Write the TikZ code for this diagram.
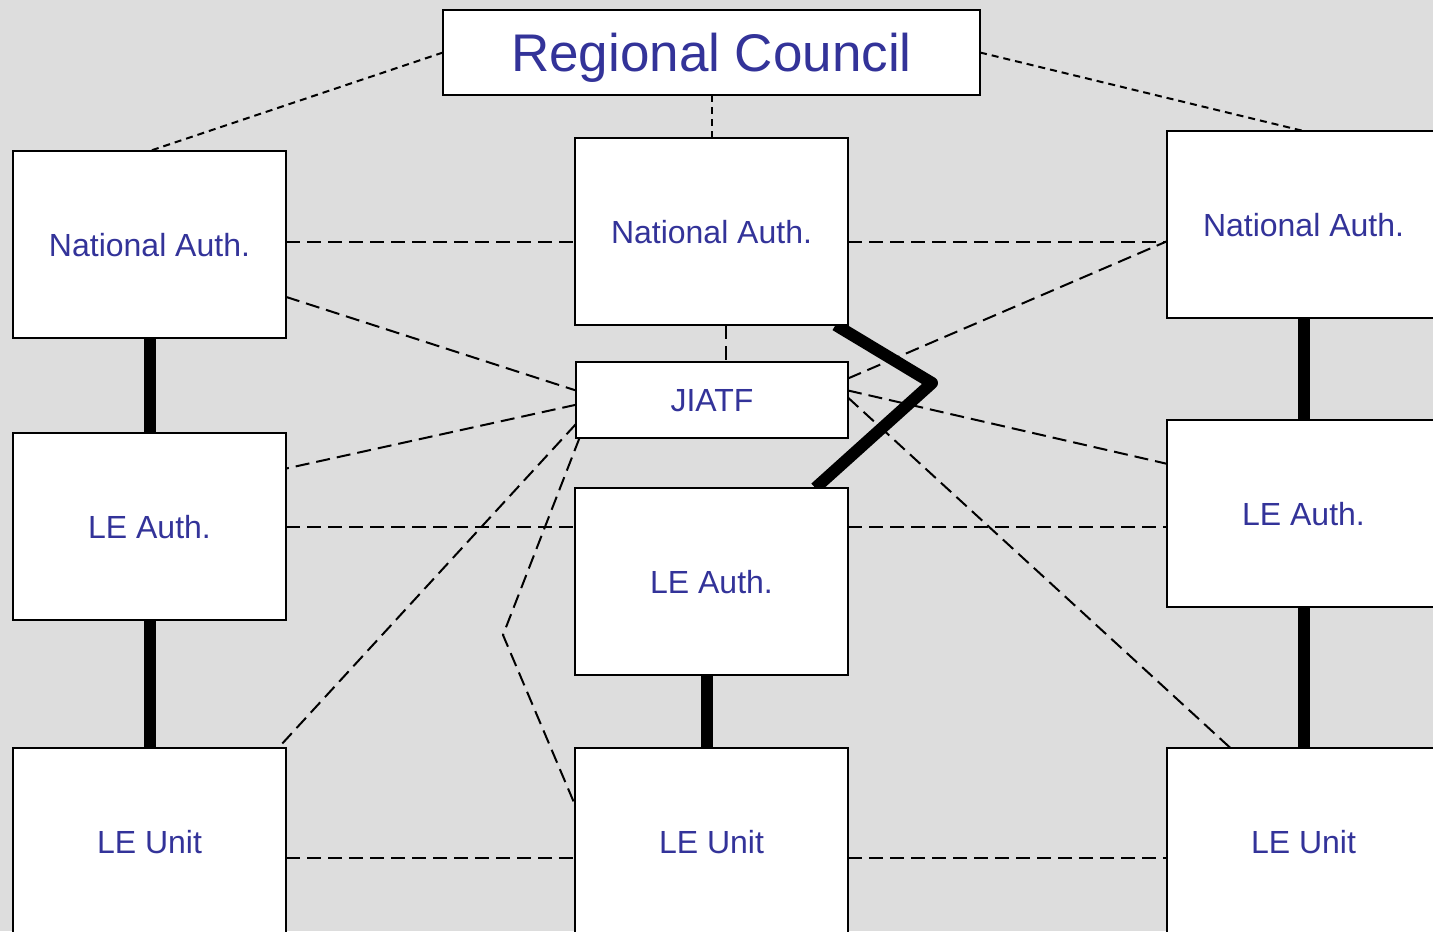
\documentclass[tikz,border=0pt]{standalone}
\usepackage{fontspec}
\setmainfont{Liberation Sans}
\definecolor{bgray}{HTML}{DDDDDD}
\definecolor{txtblue}{HTML}{333399}
\pgfdeclarelayer{background}
\pgfsetlayers{background,main}
\tikzset{
  unit/.style={draw, line width=1pt, fill=white, text=txtblue, outer sep=0pt,
    minimum width=136.5pt, minimum height=93.5pt, inner sep=0pt, text depth=0pt,
    font=\fontsize{16}{18}\selectfont},
  link/.style={dash pattern=on 7pt off 3.5pt, line width=1pt},
  toplink/.style={dash pattern=on 3.5pt off 2.5pt, line width=1pt},
  chain/.style={line width=6pt, line join=round}
}
\begin{document}
\begin{tikzpicture}[x=0.5pt,y=-0.5pt]
\useasboundingbox (0,0) rectangle (1433,931);
\clip (0,0) rectangle (1433,931);

% boxes
\node[unit, minimum width=268.5pt, minimum height=42.5pt,
  font=\fontsize{26.5}{30}\selectfont] (rc) at (711.5,52.5) {Regional Council};
\node[unit] (nal) at (149.5,244.5) {National Auth.};
\node[unit] (nam) at (711.5,231.5) {National Auth.};
\node[unit] (nar) at (1303.5,224.5) {National Auth.};
\node[unit, minimum width=136pt, minimum height=38pt] (jiatf) at (712,400) {JIATF};
\node[unit] (leal) at (149.5,526.5) {LE Auth.};
\node[unit] (leam) at (711.5,581.5) {LE Auth.};
\node[unit] (lear) at (1303.5,513.5) {LE Auth.};
\node[unit] (leul) at (149.5,841.5) {LE Unit};
\node[unit] (leum) at (711.5,841.5) {LE Unit};
\node[unit] (leur) at (1303.5,841.5) {LE Unit};

\coordinate (kink) at (503,635);
\coordinate (elbow) at (932,383);

\begin{pgfonlayer}{background}
\fill[bgray] (0,0) rectangle (1433,931);

% council links
\draw[toplink] (rc.west) -- (nal.north);
\draw[toplink] (rc.south) -- (nam.north);
\draw[toplink] (rc.east) -- (nar.north);

% peer links
\draw[link] (nal.1) -- (nal.1 -| nam.west);
\draw[link] (nam.east |- nal.1) -- (nar.west |- nal.1);
\draw[link] (leal.0.6) -- (leal.0.6 -| leam.west);
\draw[link] (leam.east |- leal.0.6) -- (lear.west |- leal.0.6);
\draw[link] (leul.-7.9) -- (leul.-7.9 -| leum.west);
\draw[link] (leum.-7.9) -- (leum.-7.9 -| leur.west);

% task force links
\draw[link] (nam.-81.4) -- (nam.-81.4 |- jiatf.north);
\draw[link] (nal.-21) -- (jiatf.176.6);
\draw[link] (jiatf.9) -- (nar.187.3);
\draw[link] (jiatf.182.1) -- (leal.23.9);
\draw[link] (jiatf.4.2) -- (lear.160.4);
\draw[link] (jiatf.190.4) -- (leul.36.5);
\draw[link] (jiatf.196.9) -- (kink) -- (leum.165);
\draw[link] (jiatf.1.4) -- (leur.128.2);

% chains
\draw[chain] (nal.south) -- (leal.north);
\draw[chain] (leal.south) -- (leul.north);
\draw[chain] (leam.-93.4) -- (leam.-93.4 |- leum.north);
\draw[chain] (nar.south) -- (lear.north);
\draw[chain] (lear.south) -- (leur.north);
\draw[chain] (nam.-37.1) -- (elbow) -- (leam.42.1);
\end{pgfonlayer}
\end{tikzpicture}
\end{document}
